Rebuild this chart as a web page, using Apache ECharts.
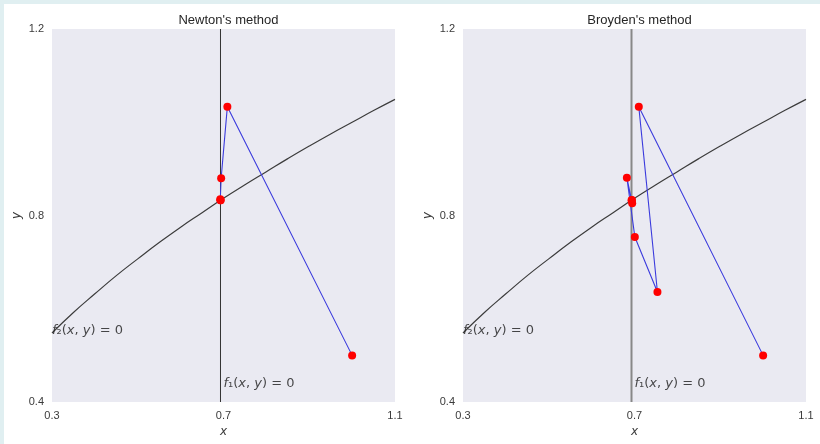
<!DOCTYPE html>
<html>
<head>
<meta charset="utf-8">
<script src="https://cdn.jsdelivr.net/npm/echarts@6/dist/echarts.min.js"></script>
<style>
html,body{margin:0;padding:0;background:#ffffff;}
#c{width:820px;height:444px;}
</style>
</head>
<body>
<div id="c"></div>
<script>
// ---- data ----
const titles = ["Newton's method", "Broyden's method"];
const xTicks = [0.3, 0.7, 1.1];
const yTicks = [0.4, 0.8, 1.2];
// f2(x,y)=0 curve samples
const curveX = [0.3, 0.35, 0.4, 0.45, 0.5, 0.55, 0.6, 0.65, 0.7, 0.75, 0.8, 0.85, 0.9, 0.95, 1.0, 1.05, 1.1];
const curveY = [0.548, 0.592, 0.632, 0.671, 0.707, 0.742, 0.775, 0.806, 0.837, 0.866, 0.894, 0.922, 0.949, 0.975, 1.0, 1.025, 1.049];
// f1(x,y)=0 vertical line
const f1X = 0.693;
// iterations
const newtonX = [1.0, 0.709, 0.6945, 0.6925, 0.6931, 0.6931];
const newtonY = [0.5, 1.0335, 0.88, 0.835, 0.8326, 0.8326];
const broydenX = [1.0, 0.71, 0.7535, 0.7008, 0.6822, 0.6946, 0.694, 0.6931];
const broydenY = [0.5, 1.0335, 0.636, 0.754, 0.881, 0.8264, 0.8335, 0.8326];
// annotation anchors
const f1Label = [0.7, 0.4385];
const f2Label = [0.3, 0.553];

const zip = (a, b) => a.map((v, i) => [v, b[i]]);
const chart = echarts.init(document.getElementById('c'), null, {renderer: 'canvas'});

const grids = [
  {left: 52, top: 29, width: 343, height: 373},
  {left: 463, top: 29, width: 343, height: 373}
];
const tickFont = {fontFamily: 'Liberation Sans', fontSize: 11, color: '#3a3a3a'};
const mathRich = {
  i: {fontFamily: 'DejaVu Sans', fontStyle: 'italic', fontSize: 13, color: '#1a1a1a'},
  n: {fontFamily: 'DejaVu Sans', fontSize: 13, color: '#1a1a1a'}
};
const f1Text = '{i|f}{n|₁(}{i|x}{n|, }{i|y}{n|) = 0}';
const f2Text = '{i|f}{n|₂(}{i|x}{n|, }{i|y}{n|) = 0}';

const xAxes = [0, 1].map(i => ({
  type: 'value', gridIndex: i, min: 0.3, max: 1.1,
  axisLine: {show: false}, axisTick: {show: false}, splitLine: {show: false},
  axisLabel: Object.assign({customValues: xTicks, margin: 8, formatter: v => v.toFixed(1)}, tickFont),
  name: 'x', nameLocation: 'middle', nameGap: 20,
  nameTextStyle: {fontFamily: 'DejaVu Sans', fontStyle: 'italic', fontSize: 12, color: '#3a3a3a'}
}));
const yAxes = [0, 1].map(i => ({
  type: 'value', gridIndex: i, min: 0.4, max: 1.2,
  axisLine: {show: false}, axisTick: {show: false}, splitLine: {show: false},
  axisLabel: Object.assign({customValues: yTicks, margin: 8, formatter: v => v.toFixed(1)}, tickFont),
  name: 'y', nameLocation: 'middle', nameGap: 29,
  nameTextStyle: {fontFamily: 'DejaVu Sans', fontStyle: 'italic', fontSize: 12, color: '#3a3a3a'}
}));

function panelSeries(i, xs, ys, f1Color, f1Width) {
  return [
    {type: 'line', xAxisIndex: i, yAxisIndex: i, data: zip(curveX, curveY), smooth: true,
     showSymbol: false, silent: true, lineStyle: {color: '#3c3c3c', width: 1.2}, z: 2},
    {type: 'line', xAxisIndex: i, yAxisIndex: i, data: [[f1X, 0.4], [f1X, 1.2]],
     showSymbol: false, silent: true, lineStyle: {color: f1Color, width: f1Width}, z: 2},
    {type: 'line', xAxisIndex: i, yAxisIndex: i, data: zip(xs, ys),
     symbol: 'circle', symbolSize: 8, showAllSymbol: true,
     itemStyle: {color: '#ff0000', borderWidth: 0},
     lineStyle: {color: '#3b3bdd', width: 1.1}, z: 3},
    {type: 'scatter', xAxisIndex: i, yAxisIndex: i, data: [f1Label], symbolSize: 0, silent: true,
     label: {show: true, position: 'right', distance: 0, formatter: f1Text, rich: mathRich}, z: 4},
    {type: 'scatter', xAxisIndex: i, yAxisIndex: i, data: [f2Label], symbolSize: 0, silent: true,
     label: {show: true, position: 'right', distance: 0, formatter: f2Text, rich: mathRich}, z: 4}
  ];
}

chart.setOption({
  animation: false,
  backgroundColor: '#ffffff',
  title: titles.map((t, i) => ({
    text: t, left: grids[i].left + grids[i].width / 2, top: 9, textAlign: 'center',
    textStyle: {fontFamily: 'Liberation Sans', fontSize: 13, fontWeight: 'normal', color: '#262626'}
  })),
  graphic: [
    {type: 'rect', left: 0, top: 0, shape: {width: 820, height: 4}, style: {fill: '#e0eff1'}, silent: true},
    {type: 'rect', left: 0, top: 0, shape: {width: 4, height: 444}, style: {fill: '#e0eff1'}, silent: true}
  ],
  grid: grids.map(g => Object.assign({show: true, backgroundColor: '#eaeaf2', borderWidth: 0}, g)),
  xAxis: xAxes,
  yAxis: yAxes,
  series: [].concat(
    panelSeries(0, newtonX, newtonY, '#333333', 1),
    panelSeries(1, broydenX, broydenY, '#888888', 2)
  )
});
</script>
</body>
</html>
